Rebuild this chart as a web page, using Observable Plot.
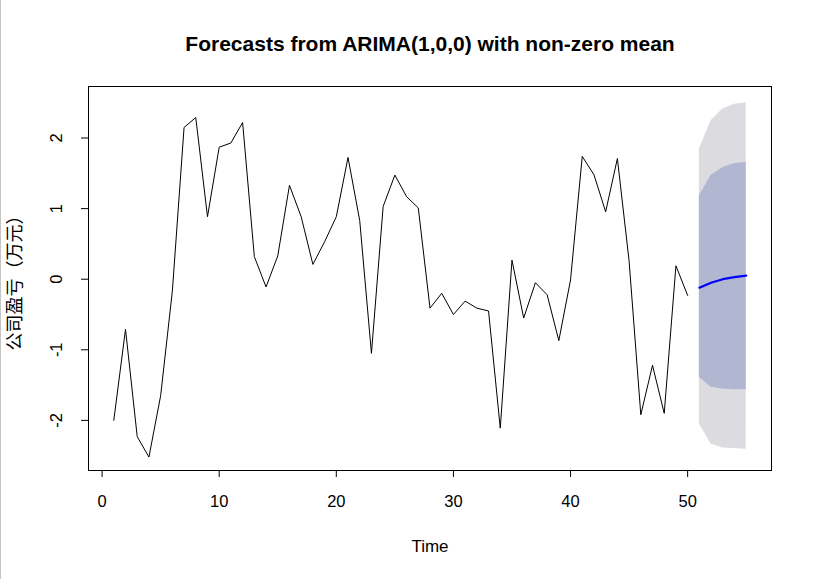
<!DOCTYPE html>
<html>
<head>
<meta charset="utf-8">
<script src="https://cdn.jsdelivr.net/npm/d3@7"></script>
<script src="https://cdn.jsdelivr.net/npm/@observablehq/plot@0.6"></script>
<style>
  html, body { margin: 0; padding: 0; background: #fff; }
  #wrap { position: relative; width: 814px; height: 579px; overflow: hidden; }
  #edge { position: absolute; left: 0; top: 0; width: 1px; height: 579px; background: #c4c4c4; }
  svg { display: block; }
</style>
</head>
<body>
<div id="wrap"><div id="chart"></div><div id="edge"></div></div>
<script>
// Observed series (Time 1..50)
const obsTime = d3.range(1, 51);
const obsValue = [
  -2.00, -0.71, -2.23, -2.52, -1.65, -0.17, 2.15, 2.29, 0.885, 1.87,
   1.93,  2.22,  0.32, -0.11,  0.33,  1.33, 0.885, 0.21, 0.53, 0.885,
   1.725, 0.83, -1.05,  1.03,  1.475, 1.17, 1.01, -0.41, -0.20, -0.50,
  -0.31, -0.41, -0.45, -2.11,  0.27, -0.55, -0.05, -0.22, -0.87, -0.01,
   1.74,  1.48,  0.955, 1.71,  0.26, -1.92, -1.22, -1.90,  0.19, -0.23
];
// Forecast horizon (Time 51..55)
const fcTime = [51, 52, 53, 54, 55];
const fcMean = [-0.12, -0.05, 0.00, 0.03, 0.05];
const lo80 = [-1.39, -1.53, -1.556, -1.565, -1.565];
const hi80 = [1.18, 1.47, 1.58, 1.64, 1.655];
const lo95 = [-2.05, -2.335, -2.39, -2.40, -2.41];
const hi95 = [1.84, 2.245, 2.41, 2.48, 2.50];

const xTicks = [0, 10, 20, 30, 40, 50];
const yTicks = [-2, -1, 0, 1, 2];

const titleText = "Forecasts from ARIMA(1,0,0) with non-zero mean";
const xLabel = "Time";
const yLabel = "公司盈亏（万元）";

const obs = obsTime.map((t, i) => ({t, v: obsValue[i]}));
const fc = fcTime.map((t, i) => ({t, mean: fcMean[i], lo80: lo80[i], hi80: hi80[i], lo95: lo95[i], hi95: hi95[i]}));

const font = "'Liberation Sans', Arial, Helvetica, sans-serif";

const chart = Plot.plot({
  width: 814,
  height: 579,
  marginLeft: 88,
  marginRight: 43,
  marginTop: 86,
  marginBottom: 109,
  style: {fontFamily: font, background: "white", color: "black"},
  x: {domain: [-1.16, 57.16], axis: null},
  y: {domain: [-2.71, 2.73], axis: null},
  marks: [
    Plot.areaY(fc, {x: "t", y1: "lo95", y2: "hi95", fill: "#DBDBE0"}),
    Plot.areaY(fc, {x: "t", y1: "lo80", y2: "hi80", fill: "#B1B6D1"}),
    Plot.line(obs, {x: "t", y: "v", stroke: "black", strokeWidth: 1}),
    Plot.line(fc, {x: "t", y: "mean", stroke: "#0000FF", strokeWidth: 2.2}),
    Plot.frame({stroke: "black", strokeWidth: 1}),
    Plot.axisX({ticks: xTicks, tickSize: 7, tickPadding: 18, fontSize: 16.5, label: null, anchor: "bottom", stroke: "black"}),
    Plot.axisY({ticks: yTicks, tickSize: 7, tickFormat: () => "", label: null, anchor: "left", stroke: "black"}),
    Plot.text(yTicks, {x: () => -1.16, y: d => d, text: d => String(d), rotate: -90, dx: -32, fontSize: 16.5, textAnchor: "middle", lineAnchor: "middle"}),
    Plot.text([titleText], {frameAnchor: "top", dy: -42, fontSize: 21, fontWeight: "bold", lineAnchor: "middle"}),
    Plot.text([xLabel], {frameAnchor: "bottom", dy: 76, fontSize: 17, lineAnchor: "middle"}),
    Plot.text([yLabel], {frameAnchor: "left", dx: -73, dy: 0, rotate: -90, fontSize: 18, fontFamily: "'Noto Sans CJK SC', sans-serif", lineAnchor: "middle", textAnchor: "middle"})
  ]
});
document.getElementById("chart").appendChild(chart);
</script>
</body>
</html>
